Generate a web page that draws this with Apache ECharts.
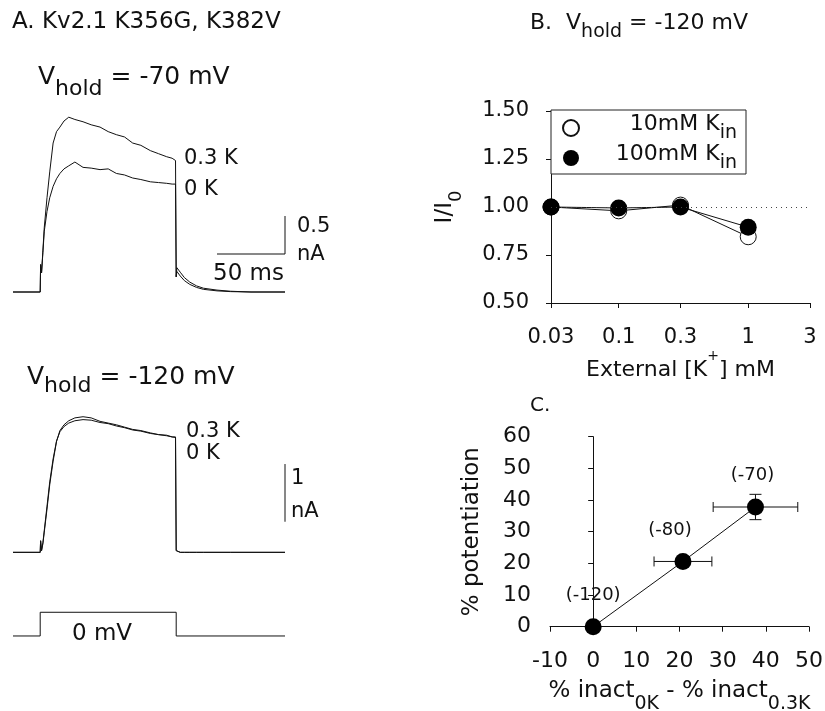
<!DOCTYPE html>
<html><head><meta charset="utf-8">
<script src="https://cdn.jsdelivr.net/npm/echarts@6/dist/echarts.min.js"></script>
<style>html,body{margin:0;padding:0;background:#fff}#c{width:825px;height:711px}</style>
</head><body><div id="c"></div>
<script>
const FONT = 'DejaVu Sans';
const INK = '#111';

// ---------- Panel A: current traces (time in ms, current in nA) ----------
const timeMs = [-20, 0, 0.3, 1, 2, 3, 5, 7, 9.5, 12, 14.5, 17.5, 21, 25.5, 31.5, 37.5, 44, 50, 56, 62, 68, 74, 81, 87, 93, 97, 99.5, 100, 100.5, 103, 106, 110, 115, 120, 130, 140, 155, 180];
const cur03K_m70 = [0, 0, 0.36, 0.25, 0.55, 0.85, 1.24, 1.58, 1.96, 2.11, 2.17, 2.25, 2.30, 2.27, 2.24, 2.20, 2.17, 2.11, 2.07, 2.04, 1.96, 1.93, 1.86, 1.82, 1.78, 1.76, 1.73, 0.20, 0.32, 0.26, 0.19, 0.13, 0.08, 0.05, 0.025, 0.01, 0, 0];
const cur0K_m70  = [0, 0, 0.36, 0.25, 0.52, 0.80, 1.06, 1.24, 1.39, 1.49, 1.56, 1.62, 1.66, 1.71, 1.64, 1.63, 1.61, 1.62, 1.56, 1.54, 1.50, 1.48, 1.45, 1.44, 1.43, 1.42, 1.42, 0.20, 0.27, 0.21, 0.15, 0.10, 0.06, 0.035, 0.015, 0.005, 0, 0];
const cur03K_m120 = [0, 0, 0.20, 0.03, 0.15, 0.35, 0.75, 1.17, 1.58, 1.92, 2.11, 2.21, 2.28, 2.33, 2.35, 2.33, 2.27, 2.24, 2.21, 2.17, 2.13, 2.11, 2.07, 2.04, 2.03, 2.00, 2.00, 0.03, 0.02, 0, 0, 0, 0, 0, 0, 0, 0, 0];
const cur0K_m120  = [0, 0, 0.20, 0.03, 0.17, 0.38, 0.80, 1.22, 1.62, 1.93, 2.09, 2.18, 2.24, 2.28, 2.30, 2.29, 2.25, 2.23, 2.19, 2.16, 2.12, 2.10, 2.06, 2.04, 2.02, 2.00, 1.99, 0.03, 0.02, 0, 0, 0, 0, 0, 0, 0, 0, 0];
const protoTime = [-20, 0, 0, 100, 100, 180];
const protoVolt = [-120, -120, 0, 0, -120, -120];
const scaleBarMs = 50, scaleBarTopNA = 0.5, scaleBarBotNA = 1;

// ---------- Panel B ----------
const kExt = [0.03, 0.1, 0.3, 1];
const ratio10mM = [1.00, 0.98, 1.01, 0.845];
const ratio100mM = [1.00, 0.995, 1.00, 0.895];
const kTicks = [0.03, 0.1, 0.3, 1, 3];

// ---------- Panel C ----------
const inactDiff = [0, 20.8, 37.6];
const potentiation = [0, 20.6, 37.8];
const inactErr = [0, 6.7, 9.8];
const potErr = [0, 0, 4.0];
const vholdLabels = ['(-120)', '(-80)', '(-70)'];

const pairs = (xs, ys) => xs.map((x, i) => [x, ys[i]]);
const traceLine = (xi, yi, data) => ({
  type: 'line', xAxisIndex: xi, yAxisIndex: yi, data, showSymbol: false, symbol: 'none',
  lineStyle: { color: INK, width: 1 }, silent: true, animation: false
});
const axisCommon = {
  axisLine: { show: true, lineStyle: { color: INK, width: 1 } },
  axisTick: { show: true, inside: false, length: 5, lineStyle: { color: INK } },
  splitLine: { show: false },
  axisLabel: { color: INK, fontFamily: FONT, fontSize: 21 }
};
const subRich = (m, s, d) => ({
  m: { fontFamily: FONT, fontSize: m, lineHeight: m, verticalAlign: 'top', color: INK },
  s: { fontFamily: FONT, fontSize: s, lineHeight: Math.round(0.8 * m + 0.2 * s + d), verticalAlign: 'bottom', color: INK }
});
const txt = (x, y, text, size, extra) => ({
  type: 'text', left: x, top: y, silent: true,
  style: Object.assign({ text, fontFamily: FONT, fontSize: size, fill: INK }, extra || {})
});
const gridBase = { containLabel: false, outerBoundsMode: 'none' };

const chart = echarts.init(document.getElementById('c'), null, { renderer: 'canvas' });
chart.setOption({
  animation: false,
  backgroundColor: '#fff',
  grid: [
    Object.assign({ left: 13, top: 102, width: 272, height: 197.6 }, gridBase),
    Object.assign({ left: 13, top: 402.3, width: 272, height: 155.8 }, gridBase),
    Object.assign({ left: 13, top: 610.3, width: 272, height: 27.65 }, gridBase),
    Object.assign({ left: 551, top: 111, width: 259, height: 192 }, gridBase),
    Object.assign({ left: 550, top: 436.7, width: 259, height: 190 }, gridBase)
  ],
  xAxis: [
    { gridIndex: 0, type: 'value', min: -20, max: 180, show: false },
    { gridIndex: 1, type: 'value', min: -20, max: 180, show: false },
    { gridIndex: 2, type: 'value', min: -20, max: 180, show: false },
    Object.assign({}, axisCommon, {
      gridIndex: 3, type: 'log', min: 0.03, max: 3, logBase: 10,
      axisTick: { show: true, length: 5, lineStyle: { color: INK }, customValues: kTicks },
      axisLabel: { color: INK, fontFamily: FONT, fontSize: 21, margin: 24, customValues: kTicks,
                   formatter: v => String(+(+v).toPrecision(2)) },
      minorTick: { show: false },
      name: '{m|External [K}{p|+}{m|] mM}', nameLocation: 'middle', nameGap: 43,
      nameTextStyle: { rich: {
        m: { fontFamily: FONT, fontSize: 22, lineHeight: 22, verticalAlign: 'bottom', color: INK },
        p: { fontFamily: FONT, fontSize: 14, lineHeight: 32, verticalAlign: 'top', color: INK }
      }, verticalAlign: 'top' }
    }),
    Object.assign({}, axisCommon, {
      gridIndex: 4, type: 'value', min: -10, max: 50, interval: 10,
      axisLabel: { color: INK, fontFamily: FONT, fontSize: 22, margin: 24 },
      name: '{m|% inact}{s|0K}{m| - % inact}{s|0.3K}', nameLocation: 'middle', nameGap: 53,
      nameTextStyle: { rich: subRich(23, 19, 12), verticalAlign: 'top' }
    })
  ],
  yAxis: [
    { gridIndex: 0, type: 'value', min: -0.1, max: 2.5, show: false },
    { gridIndex: 1, type: 'value', min: -0.1, max: 2.6, show: false },
    { gridIndex: 2, type: 'value', min: -130, max: 10, show: false },
    Object.assign({}, axisCommon, {
      gridIndex: 3, type: 'value', min: 0.5, max: 1.5, interval: 0.25,
      axisLabel: { color: INK, fontFamily: FONT, fontSize: 21, margin: 22, formatter: v => v.toFixed(2) },
      name: '{m|I/I}{s|0}', nameLocation: 'middle', nameGap: 86,
      nameTextStyle: { rich: subRich(23, 18, 9) }
    }),
    Object.assign({}, axisCommon, {
      gridIndex: 4, type: 'value', min: 0, max: 60, interval: 10,
      axisLabel: { color: INK, fontFamily: FONT, fontSize: 22, margin: 19 },
      name: '% potentiation', nameLocation: 'middle', nameGap: 66,
      nameTextStyle: { fontFamily: FONT, fontSize: 23, color: INK }
    })
  ],
  legend: {
    data: [{ name: '10mM K_in', icon: 'circle' }, { name: '100mM K_in', icon: 'circle' }],
    left: 551, top: 110, orient: 'vertical',
    padding: [3, 9, 1, 11], itemGap: 0, itemWidth: 16, itemHeight: 16,
    borderColor: '#222', borderWidth: 1, backgroundColor: '#fff',
    selectedMode: false,
    formatter: name => { const p = name.split('_'); return '{m|' + p[0] + '}{s|' + p[1] + '}'; },
    textStyle: {
      width: 153,
      rich: {
        m: { fontFamily: FONT, fontSize: 22, lineHeight: 22, verticalAlign: 'top', align: 'right', color: INK },
        s: { fontFamily: FONT, fontSize: 19, lineHeight: 30, verticalAlign: 'bottom', align: 'right', color: INK }
      }
    }
  },
  graphic: [
    txt(12, 11, 'A. Kv2.1 K356G, K382V', 23),
    txt(530, 12, '{m|B.  V}{s|hold}{m| = -120 mV}', 22, { rich: subRich(22, 19, 9) }),
    txt(38, 65, '{m|V}{s|hold}{m| = -70 mV}', 25, { rich: subRich(25, 22, 11) }),
    txt(27, 365, '{m|V}{s|hold}{m| = -120 mV}', 25, { rich: subRich(25, 22, 8) }),
    txt(184, 148, '0.3 K', 21),
    txt(184, 179, '0 K', 21),
    txt(297, 216, '0.5', 21),
    txt(297, 244, 'nA', 21),
    txt(213, 263, '50 ms', 23),
    txt(186, 421, '0.3 K', 21),
    txt(186, 443, '0 K', 21),
    txt(291, 468, '1', 21),
    txt(291, 501, 'nA', 21),
    txt(72, 623, '0 mV', 23),
    txt(530, 396, 'C.', 20)
  ],
  series: [
    traceLine(0, 0, pairs(timeMs, cur03K_m70)),
    traceLine(0, 0, pairs(timeMs, cur0K_m70)),
    traceLine(0, 0, [[180 - scaleBarMs, scaleBarTopNA], [180, scaleBarTopNA], [180, scaleBarTopNA + 0.5]]),
    traceLine(1, 1, pairs(timeMs, cur03K_m120)),
    traceLine(1, 1, pairs(timeMs, cur0K_m120)),
    traceLine(1, 1, [[180, 0.53], [180, 0.53 + scaleBarBotNA]]),
    traceLine(2, 2, pairs(protoTime, protoVolt)),
    {
      name: '10mM K_in', type: 'line', xAxisIndex: 3, yAxisIndex: 3,
      data: pairs(kExt, ratio10mM), symbol: 'circle', symbolSize: 16,
      itemStyle: { color: '#fff', borderColor: INK, borderWidth: 1 },
      lineStyle: { color: INK, width: 1 },
      markLine: { silent: true, symbol: 'none', label: { show: false },
        lineStyle: { color: '#444', type: [1, 4], width: 1 }, data: [{ yAxis: 1 }] },
      z: 3
    },
    {
      name: '100mM K_in', type: 'line', xAxisIndex: 3, yAxisIndex: 3,
      data: pairs(kExt, ratio100mM), symbol: 'circle', symbolSize: 17,
      itemStyle: { color: '#000' },
      lineStyle: { color: INK, width: 1 }, z: 4
    },
    {
      type: 'custom', xAxisIndex: 4, yAxisIndex: 4, z: 2,
      data: inactDiff.map((x, i) => [x, potentiation[i], inactErr[i], potErr[i]]),
      encode: { x: 0, y: 1 },
      renderItem: (params, api) => {
        const x = api.value(0), y = api.value(1), ex = api.value(2), ey = api.value(3);
        const st = { stroke: INK, lineWidth: 1 };
        const ch = [];
        const seg = (x1, y1, x2, y2) => ch.push({ type: 'line', shape: { x1, y1, x2, y2 }, style: st });
        if (ex > 0) {
          const l = api.coord([x - ex, y]), r = api.coord([x + ex, y]);
          seg(l[0], l[1], r[0], r[1]);
          seg(l[0], l[1] - 5, l[0], l[1] + 5);
          seg(r[0], r[1] - 5, r[0], r[1] + 5);
        }
        if (ey > 0) {
          const t = api.coord([x, y + ey]), b = api.coord([x, y - ey]);
          seg(t[0], t[1], b[0], b[1]);
          seg(t[0] - 6, t[1], t[0] + 6, t[1]);
          seg(b[0] - 6, b[1], b[0] + 6, b[1]);
        }
        return { type: 'group', children: ch };
      }
    },
    {
      type: 'line', xAxisIndex: 4, yAxisIndex: 4, z: 5,
      data: inactDiff.map((x, i) => ({ value: [x, potentiation[i]],
        label: { offset: [[0, -13, -3][i], 0] } })),
      symbol: 'circle', symbolSize: 17,
      itemStyle: { color: '#000' }, lineStyle: { color: INK, width: 1 },
      label: { show: true, position: 'top', distance: 14, fontFamily: FONT, fontSize: 18, color: INK,
        formatter: p => vholdLabels[p.dataIndex] }
    }
  ]
});
</script></body></html>
